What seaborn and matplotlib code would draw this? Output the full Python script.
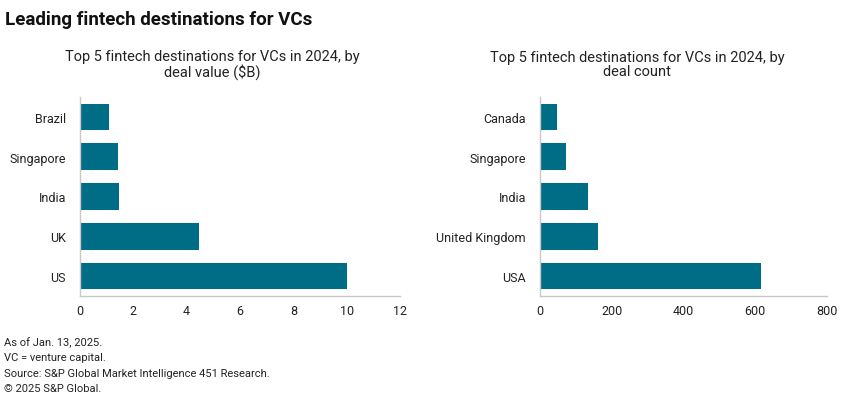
import matplotlib
matplotlib.use("Agg")
import matplotlib.pyplot as plt
import seaborn as sns
import pandas as pd

# Data
value_countries = ["Brazil", "Singapore", "India", "UK", "US"]
deal_value_bn = [1.1, 1.43, 1.46, 4.45, 10.0]
value_ticks = [0, 2, 4, 6, 8, 10, 12]

count_countries = ["Canada", "Singapore", "India", "United Kingdom", "USA"]
deal_count = [47, 72, 135, 161, 615]
count_ticks = [0, 200, 400, 600, 800]

title = "Leading fintech destinations for VCs"
subtitle_left = "Top 5 fintech destinations for VCs in 2024, by\ndeal value ($B)"
subtitle_right = "Top 5 fintech destinations for VCs in 2024, by\ndeal count"
footnotes = ["As of Jan. 13, 2025.", "VC = venture capital.",
             "Source: S&P Global Market Intelligence 451 Research.",
             "\u00a9 2025 S&P Global."]

sns.set_theme(style="white")
plt.rcParams['font.family'] = ['Roboto', 'DejaVu Sans']

BAR = "#006d86"
SPINE = "#c8c8c8"
W, H = 850, 406
fig = plt.figure(figsize=(W / 100, H / 100), dpi=100)

def px_axes(x0, x1, ytop, ybot):
    return fig.add_axes([x0 / W, 1 - ybot / H, (x1 - x0) / W, (ybot - ytop) / H])

def panel(ax, cats, vals, ticks):
    df = pd.DataFrame({"cat": cats, "val": vals})
    sns.barplot(data=df, x="val", y="cat", orient="h", color=BAR, width=0.67,
                saturation=1, edgecolor="none", ax=ax)
    ax.set_xlim(ticks[0], ticks[-1])
    ax.set_xticks(ticks)
    ax.set_xlabel("")
    ax.set_ylabel("")
    for s in ["top", "right"]:
        ax.spines[s].set_visible(False)
    for s in ["left", "bottom"]:
        ax.spines[s].set_color(SPINE)
        ax.spines[s].set_linewidth(1.0)
    ax.tick_params(axis="both", length=0, labelsize=9, colors="#222222")
    ax.tick_params(axis="y", pad=10)
    ax.tick_params(axis="x", pad=6)

ax1 = px_axes(80, 400, 98, 297)
panel(ax1, value_countries, deal_value_bn, value_ticks)
ax2 = px_axes(540, 827, 98, 297)
panel(ax2, count_countries, deal_count, count_ticks)

fig.text(5 / W, 1 - 20 / H, title, fontsize=13.5, fontweight="bold",
         va="center", ha="left", color="#111111")
fig.text(212 / W, 1 - 65 / H, subtitle_left, fontsize=10.5, ha="center",
         va="center", color="#222222", linespacing=1.05)
fig.text(637 / W, 1 - 65 / H, subtitle_right, fontsize=10.5, ha="center",
         va="center", color="#222222", linespacing=1.05)
for i, line in enumerate(footnotes):
    fig.text(4 / W, 1 - (343 + 15.3 * i) / H, line, fontsize=8.0,
             ha="left", va="center", color="#222222")

fig.savefig("out.png", dpi=100)
